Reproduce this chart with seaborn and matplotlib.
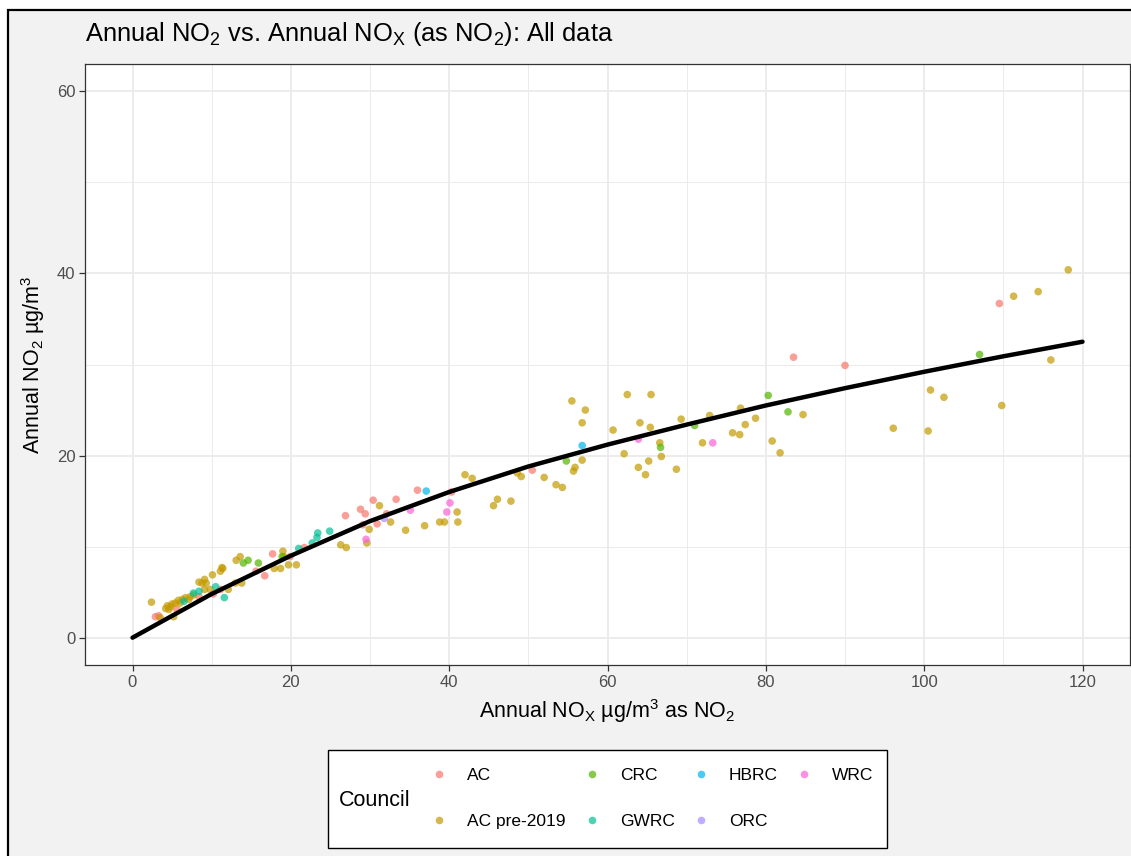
import numpy as np
import pandas as pd
import matplotlib
matplotlib.use("Agg")
import matplotlib.pyplot as plt
from matplotlib.patches import Rectangle
import seaborn as sns

# ---------------- data ----------------
ac_x = [2.9, 3.3, 5.6, 8.4, 10.2, 11.1, 15.6, 16.7, 17.7, 19.9, 21.7, 26.9, 28.8, 29.4, 29.1,
        30.4, 30.9, 32.1, 33.3, 36.0, 40.3, 50.5, 83.5, 90.0, 109.5]
ac_y = [2.3, 2.4, 3.1, 4.5, 4.8, 5.3, 7.3, 6.8, 9.2, 8.9, 9.9, 13.4, 14.1, 13.6, 12.4,
        15.1, 12.5, 13.6, 15.2, 16.2, 16.0, 18.4, 30.8, 29.9, 36.7]

acpre_x = [2.4, 3.5, 4.2, 4.6, 4.8, 5.0, 5.2, 5.4, 5.8, 6.3, 6.7, 7.1, 7.3, 7.7, 8.4, 8.8, 9.1,
           9.3, 9.1, 9.8, 10.1, 11.1, 11.3, 11.4, 12.1, 13.0, 13.8, 13.1, 13.6, 17.9, 18.7,
           19.7, 20.7, 19.0, 19.1, 4.4, 6.0,
           26.3, 27.0, 29.6, 29.9, 31.2, 32.6, 34.5, 36.9, 38.8, 39.4, 41.0, 41.1, 42.0, 42.9,
           45.6, 46.1, 47.8, 48.6, 49.1, 52.0, 53.5, 54.3, 55.5, 55.7, 55.9, 56.8, 57.2, 56.8,
           60.7, 62.1, 62.5, 63.9, 64.1, 64.8, 65.2, 65.5, 65.4, 66.6, 66.8, 68.7, 69.3, 72.0,
           72.9, 75.8, 76.7, 76.8, 77.4, 78.7, 80.8, 81.8, 84.7, 96.1, 100.5, 100.8, 102.5,
           109.8, 111.3, 114.4, 116.0, 118.2]
acpre_y = [3.9, 2.2, 3.2, 3.1, 3.4, 3.7, 2.3, 3.8, 4.1, 4.2, 4.4, 4.2, 4.5, 4.7, 6.1, 6.0, 6.4,
           6.0, 5.3, 5.3, 6.9, 7.3, 7.7, 7.6, 5.3, 6.0, 6.0, 8.5, 8.9, 7.6, 7.6,
           8.0, 8.0, 9.5, 8.9, 3.5, 3.8,
           10.2, 9.9, 10.4, 11.9, 14.5, 12.7, 11.8, 12.3, 12.7, 12.7, 13.8, 12.7, 17.9, 17.5,
           14.5, 15.2, 15.0, 18.1, 17.7, 17.6, 16.8, 16.5, 26.0, 18.3, 18.7, 23.6, 25.0, 19.5,
           22.8, 20.2, 26.7, 18.7, 23.6, 17.9, 19.4, 26.7, 23.1, 21.4, 19.9, 18.5, 24.0, 21.4,
           24.4, 22.5, 22.3, 25.2, 23.4, 24.1, 21.6, 20.3, 24.5, 23.0, 22.7, 27.2, 26.4,
           25.5, 37.5, 38.0, 30.5, 40.4]

crc_x = [14.0, 14.6, 15.9, 18.9, 54.8, 66.7, 71.0, 80.3, 82.8, 107.0]
crc_y = [8.2, 8.5, 8.2, 8.9, 19.4, 20.9, 23.3, 26.6, 24.8, 31.1]

gwrc_x = [6.5, 7.7, 8.4, 10.5, 11.6, 21.0, 22.7, 23.3, 23.4, 24.9]
gwrc_y = [4.0, 4.9, 5.1, 5.6, 4.4, 9.8, 10.4, 11.0, 11.5, 11.7]

hbrc_x = [37.1, 56.8]
hbrc_y = [16.1, 21.1]

orc_x = [31.8]
orc_y = [13.1]

wrc_x = [29.5, 35.1, 39.7, 40.1, 63.9, 73.3]
wrc_y = [10.8, 14.0, 13.8, 14.8, 21.8, 21.4]

councils = ["AC", "AC pre-2019", "CRC", "GWRC", "HBRC", "ORC", "WRC"]
colors = ["#F8766D", "#C49A00", "#53B400", "#00C094", "#00B6EB", "#A58AFF", "#FB61D7"]

# fitted curve, read at 10-unit steps
curve_x = [0, 10, 20, 30, 40, 50, 60, 70, 80, 90, 100, 110, 120]
curve_y = [0, 4.8, 9.0, 12.8, 16.0, 18.8, 21.2, 23.4, 25.5, 27.4, 29.2, 30.9, 32.5]

# ---------------- build frame ----------------
groups = [(ac_x, ac_y), (acpre_x, acpre_y), (crc_x, crc_y), (gwrc_x, gwrc_y),
          (hbrc_x, hbrc_y), (orc_x, orc_y), (wrc_x, wrc_y)]
frames = []
for name, (xs, ys) in zip(councils, groups):
    frames.append(pd.DataFrame({"NOx": xs, "NO2": ys, "Council": name}))
df = pd.concat(frames, ignore_index=True)
curve = pd.DataFrame({"NOx": curve_x, "NO2": curve_y})

# ---------------- style ----------------
sns.set_theme(style="whitegrid")
plt.rcParams["font.family"] = ["Liberation Sans", "DejaVu Sans"]
plt.rcParams["mathtext.fontset"] = "custom"
plt.rcParams["mathtext.rm"] = "Liberation Sans"
plt.rcParams["mathtext.it"] = "Liberation Sans:italic"
plt.rcParams["mathtext.bf"] = "Liberation Sans:bold"
plt.rcParams["text.color"] = "black"

W, H = 1131, 856
fig = plt.figure(figsize=(W / 100, H / 100), dpi=100, facecolor="white")

# outer grey plot background with black border
fig.patches.append(Rectangle((8 / W, -0.1), 1.2, 1 - 10 / H + 0.1, transform=fig.transFigure,
                             facecolor="#f2f2f2", edgecolor="black", linewidth=1.6, zorder=-2))

ax = fig.add_axes([85 / W, 1 - 665 / H, (1130 - 85) / W, (665 - 64) / H])
ax.set_zorder(2)
ax.set_facecolor("white")

sns.scatterplot(data=df, x="NOx", y="NO2", hue="Council", hue_order=councils,
                palette=colors, s=30, alpha=0.7, linewidth=0, ax=ax, zorder=3, legend=True)
sns.lineplot(data=curve, x="NOx", y="NO2", color="black", linewidth=3.2, ax=ax,
             zorder=4, sort=True)

ax.set_xlim(-6, 126)
ax.set_ylim(-3, 63)
ax.set_xticks([0, 20, 40, 60, 80, 100, 120])
ax.set_yticks([0, 20, 40, 60])
ax.set_xticks([10, 30, 50, 70, 90, 110], minor=True)
ax.set_yticks([10, 30, 50], minor=True)
ax.grid(which="major", color="#ebebeb", linewidth=1.3)
ax.grid(which="minor", color="#ebebeb", linewidth=0.7)
ax.set_axisbelow(True)
for sp in ax.spines.values():
    sp.set_color("#333333")
    sp.set_linewidth(0.9)
ax.tick_params(axis="both", which="major", length=4, width=0.9, color="#333333",
               labelcolor="#4d4d4d", labelsize=12, pad=3, bottom=True, left=True)
ax.tick_params(axis="both", which="minor", length=0)

ax.set_xlabel(r"Annual NO$_\mathrm{X}$ µg/m$^\mathrm{3}$ as NO$_\mathrm{2}$", fontsize=15.5,
              color="black", labelpad=5)
ax.set_ylabel(r"Annual NO$_\mathrm{2}$ µg/m$^\mathrm{3}$", fontsize=15.5, color="black", labelpad=7)

fig.text(85 / W, 1 - 34 / H, r"Annual NO$_\mathrm{2}$ vs. Annual NO$_\mathrm{X}$ (as NO$_\mathrm{2}$): All data",
         fontsize=18.4, ha="left", va="center", color="black")

# ---------------- legend ----------------
handles, labels = ax.get_legend_handles_labels()
ax.get_legend().remove()
for h in handles:
    try:
        h.set_alpha(0.7)
    except Exception:
        pass
fig.patches.append(Rectangle((328 / W, 1 - 848 / H), (887 - 328) / W, (848 - 750) / H,
                             transform=fig.transFigure, facecolor="white",
                             edgecolor="black", linewidth=1.0, zorder=1))
fig.text(339 / W, 1 - 800 / H, "Council", fontsize=15.5, ha="left", va="center", zorder=5)
leg = fig.legend(handles, labels, ncol=4, loc="center left",
                 bbox_to_anchor=(422 / W, 1 - 798.5 / H), frameon=False, fontsize=12.5,
                 handlelength=1.0, handletextpad=1.1, columnspacing=1.02, labelspacing=1.8,
                 borderpad=0, markerscale=1.0)
for t in leg.get_texts():
    t.set_color("black")

fig.savefig("out.png", dpi=100, facecolor="white")
